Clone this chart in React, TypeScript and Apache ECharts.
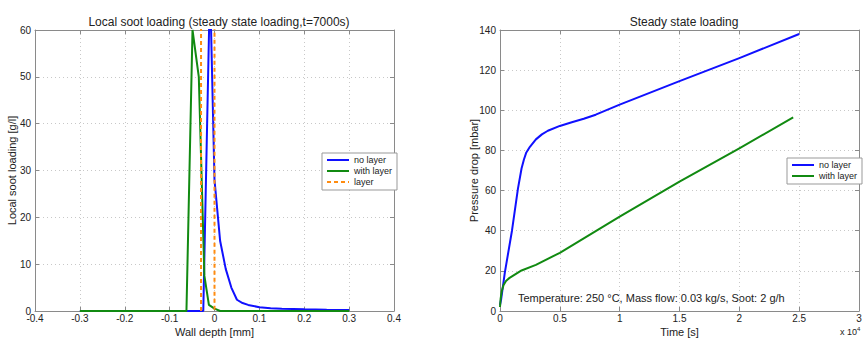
import React, { useEffect, useRef } from "react";
import * as echarts from "echarts";

// ---- Left chart: local soot loading vs wall depth ----
const noLayerDepth = [-0.3, -0.025, -0.01, 0, 0.0125, 0.025, 0.0375, 0.05, 0.0625, 0.075, 0.1, 0.125, 0.15, 0.2, 0.25, 0.3];
const noLayerSoot = [0, 0, 70, 28, 15, 9, 5, 2.4, 1.7, 1.3, 0.8, 0.6, 0.5, 0.35, 0.25, 0.2];

const withLayerDepth = [-0.3, -0.0625, -0.049, -0.035, -0.0225, -0.0125, 0, 0.0125, 0.3];
const withLayerSoot = [0, 0, 60, 50, 7.5, 1.3, 0.5, 0, 0];

const layerDepth = [-0.03, -0.03, 0, 0];
const layerSoot = [0, 100, 100, 0];

const leftXTicks = { min: -0.4, max: 0.4, interval: 0.1 };
const leftYTicks = { min: 0, max: 60, interval: 10 };

// ---- Right chart: pressure drop vs time (x 10^4 s) ----
const noLayerTime = [0, 0.01, 0.04, 0.1, 0.15, 0.18, 0.2, 0.22, 0.25, 0.3, 0.35, 0.4, 0.5, 0.6, 0.7, 0.8, 1.0, 1.5, 2.0, 2.5];
const noLayerDp = [3, 6, 19, 40, 61, 71, 75.5, 79, 81.8, 85.5, 88, 89.8, 92.2, 94, 95.8, 97.8, 102.8, 114.5, 126, 138];

const withLayerTime = [0, 0.005, 0.015, 0.03, 0.05, 0.08, 0.12, 0.18, 0.3, 0.5, 1.0, 1.5, 2.0, 2.45];
const withLayerDp = [2, 6, 10, 13, 15, 16.5, 18, 20.2, 23, 29, 47, 64.5, 81, 96.5];

const rightXTicks = { min: 0, max: 3, interval: 0.5 };
const rightYTicks = { min: 0, max: 140, interval: 20 };

const leftLegend = ["no layer", "with layer", "layer"];
const rightLegend = ["no layer", "with layer"];

const FONT = "'Liberation Sans', Arial, sans-serif";
const BLUE = "#1010ff";
const GREEN = "#118a11";
const ORANGE = "#ff8c10";
const TEXT = "#222";
const BOX = "#8a8a8a";

const zip = (xs: number[], ys: number[]) => xs.map((x, i) => [x, ys[i]]);

function axisBase(primary: boolean, labelMargin = 5) {
  return {
    type: "value",
    axisLine: { show: true, onZero: false, lineStyle: { color: BOX, width: 1 } },
    axisTick: { show: true, inside: true, length: 4, lineStyle: { color: BOX } },
    axisLabel: primary
      ? { show: true, color: TEXT, fontSize: 10, fontFamily: FONT, margin: labelMargin, showMinLabel: true, showMaxLabel: true }
      : { show: false },
    splitLine: primary
      ? { show: true, lineStyle: { color: "#c8c8c8", type: [1, 3], width: 1 } }
      : { show: false },
    nameMoveOverlap: false,
    nameTextStyle: { color: TEXT, fontSize: 11, fontFamily: FONT },
  };
}

const legendBase = {
  orient: "vertical",
  padding: [2, 5, 3, 4],
  itemWidth: 22,
  itemHeight: 8,
  itemGap: 1,
  borderColor: "#999",
  borderWidth: 1,
  backgroundColor: "#fff",
  selectedMode: false,
  itemStyle: { opacity: 0, borderWidth: 0 },
  textStyle: { fontSize: 9, lineHeight: 10, color: TEXT, fontFamily: FONT },
};

export default function App() {
  const ref = useRef<HTMLDivElement>(null);
  useEffect(() => {
    if (!ref.current) return;
    const chart = echarts.init(ref.current, undefined, { renderer: "svg" });
    const option: any = {
      animation: false,
      backgroundColor: "#fff",
      textStyle: { fontFamily: FONT },
      title: [
        {
          text: "Local soot loading (steady state loading,t=7000s)",
          left: 214,
          top: 11,
          textAlign: "center",
          textStyle: { fontSize: 12, fontWeight: "normal", color: TEXT, fontFamily: FONT },
        },
        {
          text: "Steady state loading",
          left: 679,
          top: 11,
          textAlign: "center",
          textStyle: { fontSize: 12, fontWeight: "normal", color: TEXT, fontFamily: FONT },
        },
      ],
      grid: [
        { left: 35, top: 30, width: 359, height: 281, containLabel: false, outerBoundsMode: "none" },
        { left: 500, top: 30, width: 359, height: 281, containLabel: false, outerBoundsMode: "none" },
      ],
      xAxis: [
        {
          ...axisBase(true, 2),
          gridIndex: 0,
          position: "bottom",
          ...leftXTicks,
          name: "Wall depth [mm]",
          nameLocation: "middle",
          nameGap: 15,
        },
        { ...axisBase(false), gridIndex: 0, position: "top", ...leftXTicks },
        {
          ...axisBase(true, 2),
          gridIndex: 1,
          position: "bottom",
          ...rightXTicks,
          name: "Time [s]",
          nameLocation: "middle",
          nameGap: 15,
        },
        { ...axisBase(false), gridIndex: 1, position: "top", ...rightXTicks },
      ],
      yAxis: [
        {
          ...axisBase(true, 4),
          gridIndex: 0,
          position: "left",
          ...leftYTicks,
          name: "Local soot loading [g/l]",
          nameLocation: "middle",
          nameRotate: 90,
          nameGap: 18,
        },
        { ...axisBase(false), gridIndex: 0, position: "right", ...leftYTicks },
        {
          ...axisBase(true, 4),
          gridIndex: 1,
          position: "left",
          ...rightYTicks,
          name: "Pressure drop [mbar]",
          nameLocation: "middle",
          nameRotate: 90,
          nameGap: 21,
        },
        { ...axisBase(false), gridIndex: 1, position: "right", ...rightYTicks },
      ],
      legend: [
        { ...legendBase, data: leftLegend, left: 322, top: 153 },
        { ...legendBase, data: rightLegend, left: 787, top: 158 },
      ],
      series: [
        {
          name: "no layer",
          type: "line",
          xAxisIndex: 0,
          yAxisIndex: 0,
          data: zip(noLayerDepth, noLayerSoot),
          symbol: "none",
          clip: true,
          color: BLUE,
          lineStyle: { color: BLUE, width: 2 },
        },
        {
          name: "with layer",
          type: "line",
          xAxisIndex: 0,
          yAxisIndex: 0,
          data: zip(withLayerDepth, withLayerSoot),
          symbol: "none",
          clip: true,
          color: GREEN,
          lineStyle: { color: GREEN, width: 2 },
        },
        {
          name: "layer",
          type: "line",
          xAxisIndex: 0,
          yAxisIndex: 0,
          data: zip(layerDepth, layerSoot),
          symbol: "none",
          clip: true,
          color: ORANGE,
          lineStyle: { color: ORANGE, width: 2, type: [4, 3] },
        },
        {
          name: "no layer",
          type: "line",
          xAxisIndex: 2,
          yAxisIndex: 2,
          data: zip(noLayerTime, noLayerDp),
          symbol: "none",
          color: BLUE,
          lineStyle: { color: BLUE, width: 2, join: "round" },
        },
        {
          name: "with layer",
          type: "line",
          xAxisIndex: 2,
          yAxisIndex: 2,
          data: zip(withLayerTime, withLayerDp),
          symbol: "none",
          color: GREEN,
          lineStyle: { color: GREEN, width: 2, join: "round" },
        },
      ],
      graphic: [
        {
          type: "text",
          left: 518,
          top: 292,
          style: {
            text: "Temperature: 250 °C, Mass flow: 0.03 kg/s, Soot: 2 g/h",
            fontSize: 11,
            fontFamily: FONT,
            fill: TEXT,
          },
        },
        {
          type: "text",
          left: 840,
          top: 326,
          style: {
            text: "x 10{sup|4}",
            fontSize: 9,
            fontFamily: FONT,
            fill: TEXT,
            rich: { sup: { fontSize: 6, verticalAlign: "top", padding: [0, 0, 6, 0], fill: TEXT } },
          },
        },
      ],
    };
    chart.setOption(option);
    return () => chart.dispose();
  }, []);
  return (
    <div
      ref={ref}
      style={{ position: "fixed", left: 0, top: 0, width: 866, height: 340, background: "#fff" }}
    />
  );
}
